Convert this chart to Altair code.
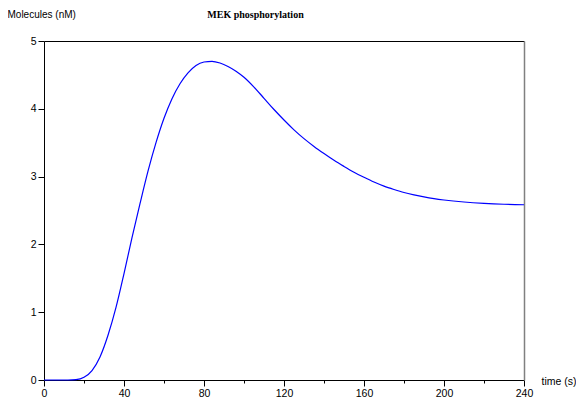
import altair as alt
import pandas as pd

# MEK phosphorylation time course
time_s = [0, 12, 16, 20, 24, 28, 32, 36, 40, 44, 48, 52, 56, 60, 64, 68, 72, 76,
          80, 84, 88, 92, 96, 100, 105, 110, 115, 120, 125, 130, 135, 140, 145,
          150, 155, 160, 165, 170, 175, 180, 185, 190, 195, 200, 210, 220, 230, 240]
mek_nM = [0.0, 0.0, 0.005, 0.04, 0.14, 0.34, 0.66, 1.07, 1.57, 2.10, 2.60, 3.08,
          3.50, 3.86, 4.15, 4.37, 4.53, 4.64, 4.69, 4.70, 4.675, 4.625, 4.555, 4.465,
          4.32, 4.155, 3.99, 3.835, 3.69, 3.56, 3.445, 3.34, 3.24, 3.15, 3.065, 2.99,
          2.92, 2.86, 2.81, 2.765, 2.73, 2.70, 2.675, 2.655, 2.625, 2.605, 2.592, 2.585]

x_ticks = [0, 20, 40, 60, 80, 100, 120, 140, 160, 180, 200, 220, 240]
y_ticks = [0, 0.5, 1, 1.5, 2, 2.5, 3, 3.5, 4, 4.5, 5]

df = pd.DataFrame({"t": time_s, "v": mek_nM})

xs = alt.Scale(domain=[0, 240], nice=False, zero=False)
ys = alt.Scale(domain=[0, 5], nice=False)

FONT = "Liberation Sans"

x_axis = alt.Axis(
    orient="bottom",
    values=x_ticks,
    format="d",
    labelExpr="datum.value % 40 === 0 ? datum.label : ''",
    tickSize={"condition": {"test": "datum.value % 40 === 0", "value": 6}, "value": 3},
    title="time (s)", titleAngle=0, titleX=497, titleY=1,
    titleAlign="left", titleBaseline="middle",
    titleFont=FONT, titleFontSize=10.5, titleFontWeight="normal", titleColor="black",
    labelFont=FONT, labelFontSize=10.5, labelColor="black", labelPadding=2,
    labelFlush=False, labelOverlap=False,
    grid=False, domainColor="black", tickColor="black",
)
y_axis = alt.Axis(
    orient="left",
    values=y_ticks,
    format="d",
    labelExpr="datum.value % 1 === 0 ? datum.label : ''",
    tickSize={"condition": {"test": "datum.value % 1 === 0", "value": 6}, "value": 3.5},
    title="Molecules (nM)", titleAngle=0, titleX=-37, titleY=-27,
    titleAlign="left", titleBaseline="middle",
    titleFont=FONT, titleFontSize=10, titleFontWeight="normal", titleColor="black",
    labelFont=FONT, labelFontSize=10.5, labelColor="black", labelPadding=2,
    labelFlush=False, labelOverlap=False,
    grid=False, domainColor="black", tickColor="black",
)

base = alt.Chart(df).mark_line(color="#0000ff", strokeWidth=1.2, interpolate="monotone").encode(
    x=alt.X("t:Q", scale=xs, axis=x_axis),
    y=alt.Y("v:Q", scale=ys, axis=y_axis),
)

frame = alt.Chart(df).mark_line(opacity=0).encode(
    x=alt.X("t:Q", scale=xs, axis=alt.Axis(
        orient="top", ticks=False, labels=False, grid=False, domainColor="black",
        title="MEK phosphorylation", titleAngle=0, titleX=211, titleY=-27,
        titleAlign="center", titleBaseline="middle",
        titleFont="Liberation Serif", titleFontSize=10, titleFontWeight="bold",
        titleColor="black")),
    y=alt.Y("v:Q", scale=ys, axis=alt.Axis(orient="right", ticks=False, labels=False, title="",
                                            grid=False, domainColor="#808080", domainWidth=1.5)),
)

chart = alt.layer(base, frame).resolve_axis(x="independent", y="independent").properties(
    width=480,
    height=339,
    autosize=alt.AutoSizeParams(type="none"),
    padding={"left": 36, "top": 33, "right": 52, "bottom": 18},
).configure_view(stroke=None)

chart.save("out.html", embed_options={"renderer": "svg", "actions": False})
